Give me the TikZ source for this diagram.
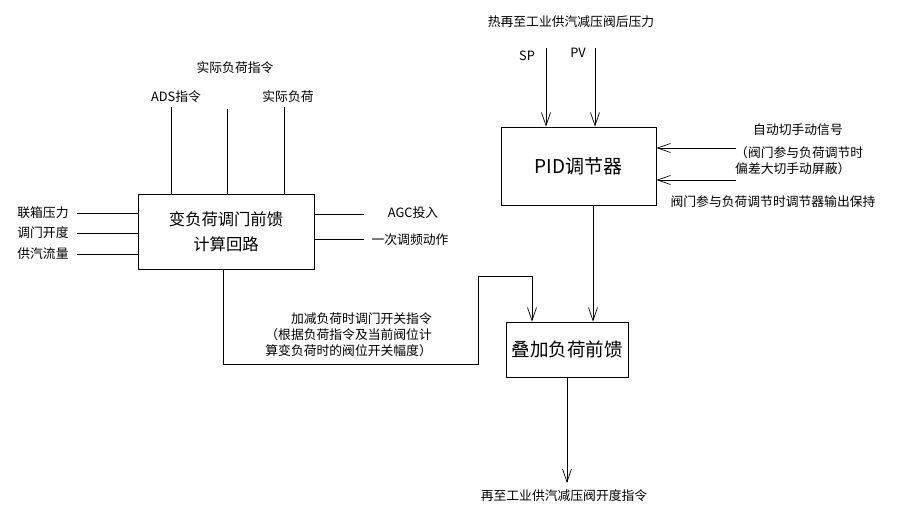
\documentclass[tikz,border=0pt]{standalone}
\usepackage{fontspec}
\setmainfont{Noto Sans CJK SC}
\usetikzlibrary{arrows.meta}
\begin{document}
\begin{tikzpicture}[x=1pt,y=-1pt,
  ln/.style={line width=0.8pt},
  arr/.style={ln,-{Straight Barb[length=13pt,width=9pt,line width=0.7pt]}},
  box/.style={draw,line width=0.8pt,inner sep=0pt,align=center},
  lbl/.style={font=\fontsize{12.8}{16}\selectfont,inner sep=0pt}]
\useasboundingbox (0,0) rectangle (905,519);
% boxes
\node[box,minimum width=176pt,minimum height=75pt,font=\fontsize{16.3}{25}\selectfont] (ff) at (226,231.5) {变负荷调门前馈\\计算回路};
\node[box,minimum width=155pt,minimum height=78pt,font=\fontsize{19}{20}\selectfont] (pid) at (578.5,166) {PID调节器};
\node[box,minimum width=122pt,minimum height=55pt,font=\fontsize{18.5}{20}\selectfont] (sum) at (567,349.5) {叠加负荷前馈};
% labels top-left
\node[lbl] (tl) at (235,68) {实际负荷指令};
\node[lbl] (ads) at (176,97) {ADS指令};
\node[lbl] (act) at (288,97) {实际负荷};
\coordinate (a1) at (171,107);
\coordinate (a2) at (227,109);
\coordinate (a3) at (284,107);
\draw[ln] (a1) -- (a1 |- ff.north);
\draw[ln] (a2) -- (a2 |- ff.north);
\draw[ln] (a3) -- (a3 |- ff.north);
% left inputs
\node[lbl] (i1) at (43,213) {联箱压力};
\node[lbl] (i2) at (43,233) {调门开度};
\node[lbl] (i3) at (43,254) {供汽流量};
\coordinate (c1) at (77,213);
\coordinate (c2) at (77,233);
\coordinate (c3) at (77,254);
\draw[ln] (c1) -- (c1 -| ff.west);
\draw[ln] (c2) -- (c2 -| ff.west);
\draw[ln] (c3) -- (c3 -| ff.west);
% right outputs
\node[lbl] (o1) at (413,213) {AGC投入};
\node[lbl] (o2) at (410,240) {一次调频动作};
\coordinate (d1) at (364,214);
\coordinate (d2) at (364,239);
\draw[ln] (d1 -| ff.east) -- (d1);
\draw[ln] (d2 -| ff.east) -- (d2);
% bottom path
\coordinate (p1) at (223,364);
\coordinate (p2) at (478,276);
\coordinate (p3) at (532,276);
\draw[arr] (p1 |- ff.south) -- (p1) -| (p2) -- (p3) -- (p3 |- sum.north);
\node[lbl,align=right,anchor=east] (bl) at (432,335) {加减负荷时调门开关指令\\（根据负荷指令及当前阀位计\\算变负荷时的阀位开关幅度）};
% PID inputs
\node[lbl] (ttl) at (571,22) {热再至工业供汽减压阀后压力};
\node[lbl] (sp) at (527,56) {SP};
\node[lbl] (pv) at (578,53) {PV};
\coordinate (s1) at (546,48);
\coordinate (s2) at (595,48);
\draw[arr] (s1) -- (s1 |- pid.north);
\draw[arr] (s2) -- (s2 |- pid.north);
\node[lbl] (r1l) at (798,130) {自动切手动信号};
\node[lbl,align=left,anchor=west] (r2l) at (735,160.5) {（阀门参与负荷调节时\\偏差大切手动屏蔽）};
\node[lbl] (r3l) at (773,202) {阀门参与负荷调节时调节器输出保持};
\coordinate (r1) at (736,148);
\coordinate (r2) at (736,180);
\draw[arr] (r1) -- (r1 -| pid.east);
\draw[arr] (r2) -- (r2 -| pid.east);
% PID to sum
\coordinate (q1) at (593,205);
\draw[arr] (q1 |- pid.south) -- (q1 |- sum.north);
% output
\node[lbl] (out) at (564,496) {再至工业供汽减压阀开度指令};
\coordinate (e1) at (567,483);
\draw[arr] (e1 |- sum.south) -- (e1);
\end{tikzpicture}
\end{document}
